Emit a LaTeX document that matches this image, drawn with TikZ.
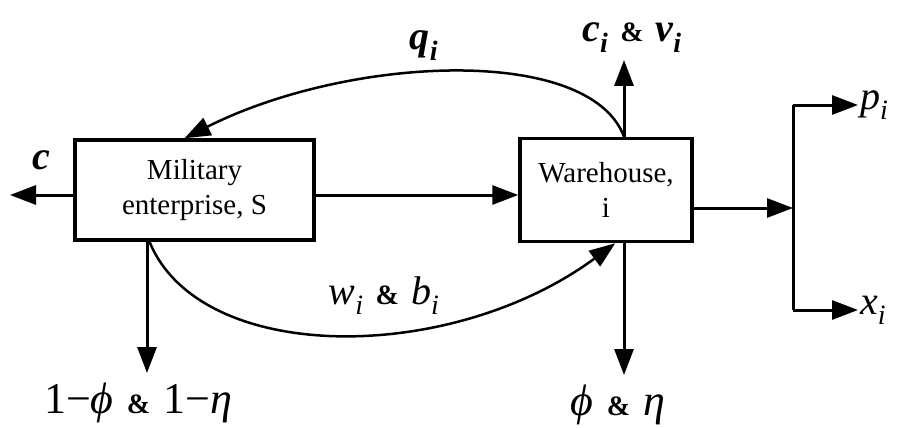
\documentclass[tikz,border=0pt]{standalone}
\usepackage{fontspec}
\setmainfont{Liberation Serif}
\usetikzlibrary{positioning,arrows.meta,calc}
\newcommand{\lvar}[2]{{\itshape #1}\textsubscript{\itshape #2}}
\newcommand{\lamp}{\hspace{0.3em}{\fontsize{28}{28}\selectfont\bfseries\&}\hspace{0.3em}}

\begin{document}
\begin{tikzpicture}[
  x=1pt, y=-1pt,
  box/.style={draw, line width=3.5pt, align=center, font=\fontsize{29}{35}\selectfont, inner sep=0pt},
  lab/.style={inner sep=1pt, font=\fontsize{40}{40}\selectfont},
  arr/.style={-{Triangle[length=26pt,width=19pt]}, line width=3pt},
  curvearr/.style={-{Triangle[length=26pt,width=19pt]}, line width=2.5pt},
]
\useasboundingbox (0,0) rectangle (908,428);
\node[box, minimum width=239pt, minimum height=100pt] (mil) at (194.5,190) {Military\\enterprise, S};
\node[box, minimum width=172pt, minimum height=103pt] (ware) at (606,190) {Warehouse,\\i};
\coordinate (cend) at (10,195);
\coordinate (cvend) at (624,60);
\coordinate (split) at (793,208);
\coordinate (ptop) at (793,105);
\coordinate (xbot) at (793,310);
\coordinate (pend) at (858,105);
\coordinate (xend) at (858,310);
\coordinate (milend) at (147,373);
\coordinate (peend) at (624,375);
\node[lab] (clab) at (41,160) {\bfseries\itshape c};
\node[lab] (cvlab) at (632,38) {\bfseries\lvar{c}{i}\lamp\lvar{v}{i}};
\node[lab] (qlab) at (424,46) {\bfseries\lvar{q}{i}};
\node[lab, right=1pt of pend] (plab) {\lvar{p}{i}};
\node[lab, right=1pt of xend] (xlab) {\lvar{x}{i}};
\node[lab] (wblab) at (384,296) {\lvar{w}{i}\lamp\lvar{b}{i}};
\node[lab, font=\fontsize{44}{44}\selectfont] (milab) at (138,403) {1−{\itshape ϕ}\lamp 1−{\itshape η}};
\node[lab, font=\fontsize{44}{44}\selectfont] (pelab) at (618,405) {{\itshape ϕ}\lamp{\itshape η}};
\draw[arr] ($(mil.west)+(0,5)$) -- (cend);
\draw[arr] ($(mil.east)+(0,5)$) -- ($(ware.west)+(0,5)$);
\draw[arr] ($(ware.north)+(18,0)$) -- (cvend);
\draw[arr] ($(ware.south)+(18,0)$) -- (peend);
\draw[arr] ($(mil.south)+(-47.5,0)$) -- (milend);
\draw[arr] ($(ware.east)+(0,18)$) -- (split);
\draw[line width=3pt] (ptop) -- (xbot);
\draw[arr] (ptop) -- (pend);
\draw[arr] (xbot) -- (xend);
\draw[curvearr] ($(ware.north)+(18,0)$) .. controls (590,45) and (350,55) .. ($(mil.north)+(-10,0)$);
\draw[curvearr] ($(mil.south)+(-45,0)$) .. controls (200,365) and (450,365) .. ($(ware.south west)+(97,0)$);
\end{tikzpicture}
\end{document}
